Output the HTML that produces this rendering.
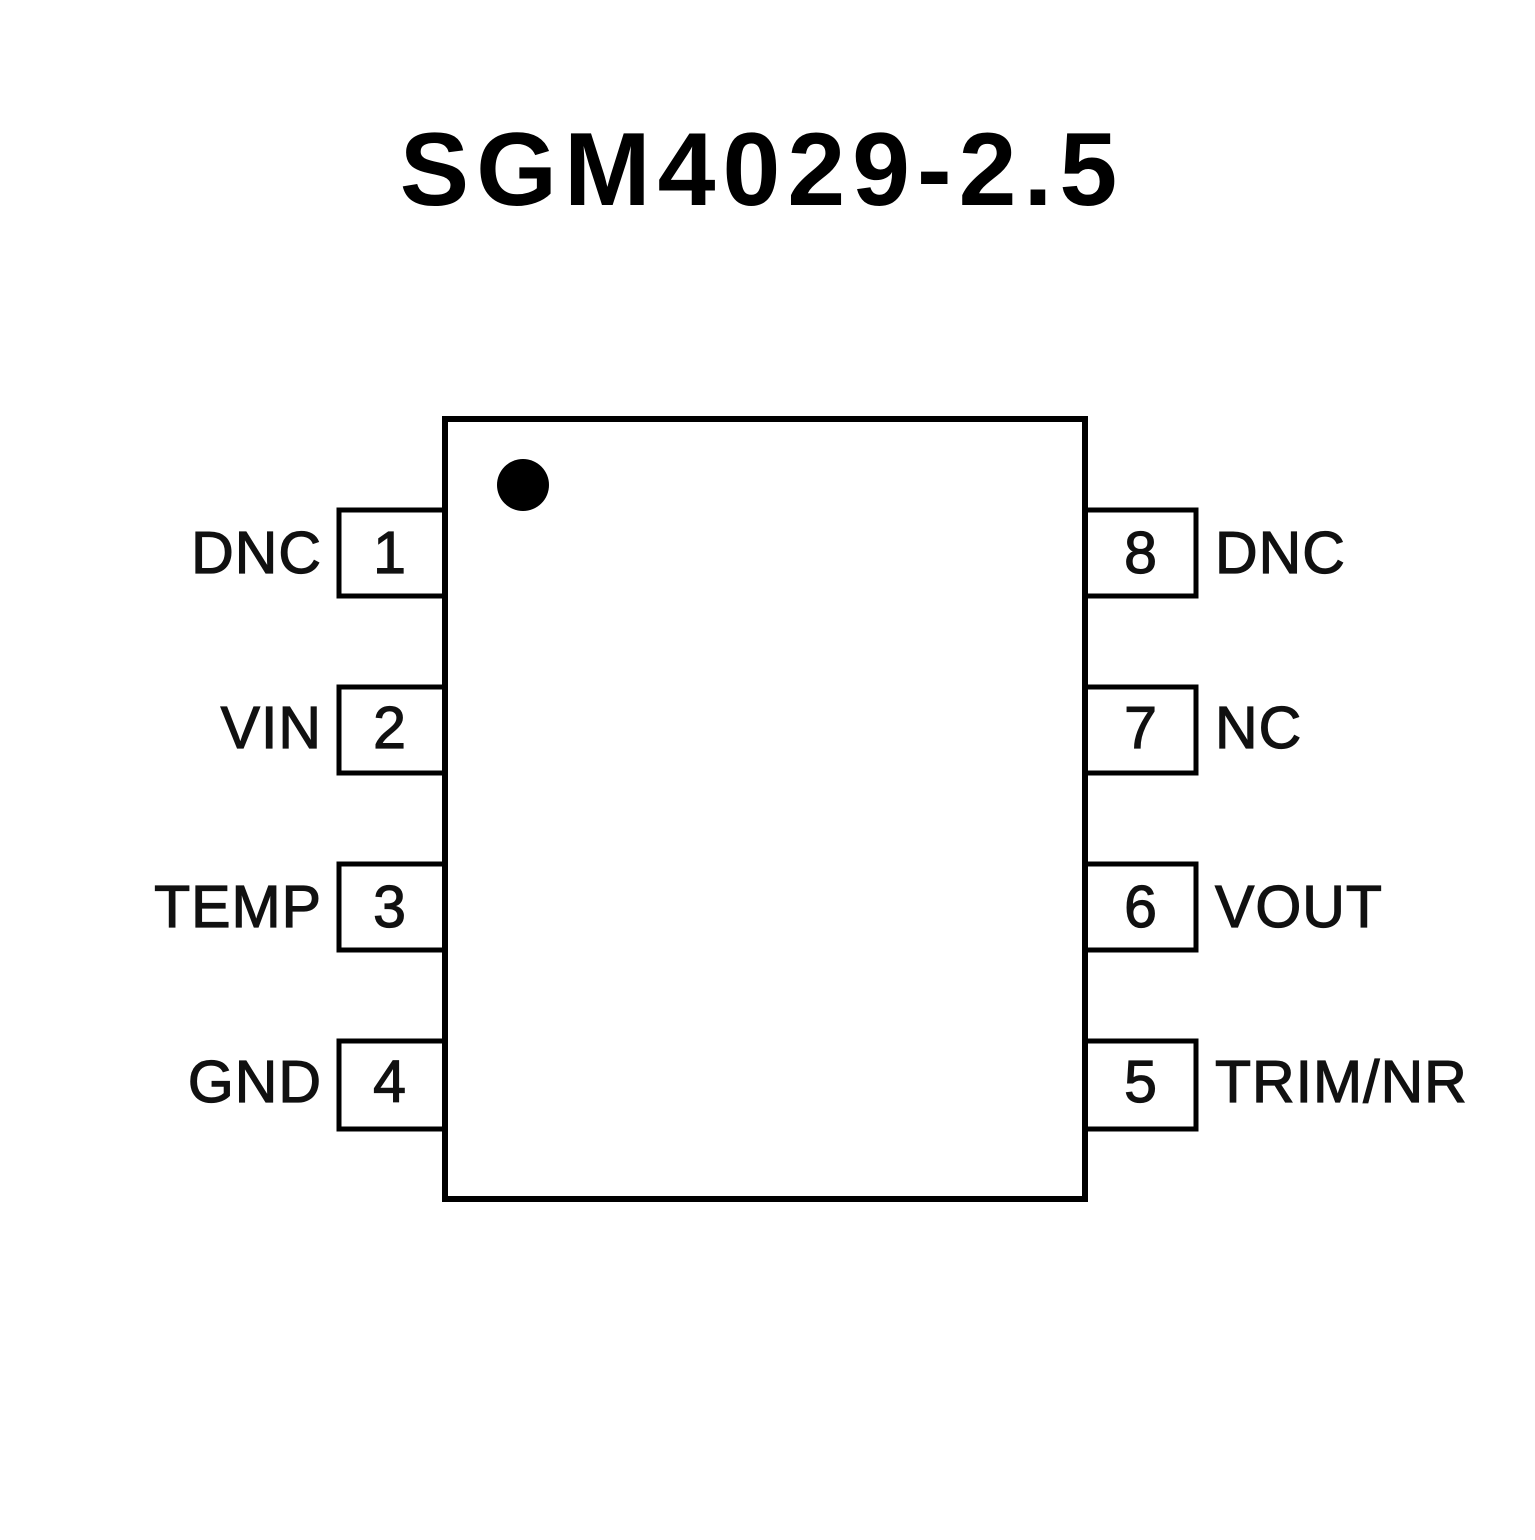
<!DOCTYPE html>
<html><head><meta charset="utf-8"><style>
html,body{margin:0;padding:0;background:#fff;}
</style></head><body>
<svg width="1535" height="1535" viewBox="0 0 1535 1535" xmlns="http://www.w3.org/2000/svg">
<rect width="1535" height="1535" fill="#fff"/>
<text x="762" y="205" text-anchor="middle" font-family="Liberation Sans, sans-serif" font-weight="bold" font-size="104" letter-spacing="7" fill="#000">SGM4029-2.5</text>
<g fill="none" stroke="#000" stroke-width="5">
<rect x="339" y="510" width="106" height="86"/>
<rect x="339" y="687" width="106" height="86"/>
<rect x="339" y="864" width="106" height="86"/>
<rect x="339" y="1041" width="106" height="88"/>
<rect x="1085" y="510" width="111" height="86"/>
<rect x="1085" y="687" width="111" height="86"/>
<rect x="1085" y="864" width="111" height="86"/>
<rect x="1085" y="1041" width="111" height="88"/>
</g>
<rect x="445" y="419" width="640" height="780" fill="#fff" stroke="#000" stroke-width="6"/>
<circle cx="523" cy="485" r="26" fill="#000"/>
<g font-family="Liberation Sans, sans-serif" font-size="59" fill="#111" stroke="#111" stroke-width="1.2" letter-spacing="1">
<g text-anchor="end">
<text x="322" y="573">DNC</text>
<text x="322" y="748">VIN</text>
<text x="322" y="927">TEMP</text>
<text x="322" y="1102">GND</text>
</g>
<g text-anchor="middle">
<text x="390" y="573">1</text>
<text x="390" y="748">2</text>
<text x="390" y="927">3</text>
<text x="390" y="1102">4</text>
<text x="1141" y="573">8</text>
<text x="1141" y="748">7</text>
<text x="1141" y="927">6</text>
<text x="1141" y="1102">5</text>
</g>
<text x="1215" y="573">DNC</text>
<text x="1215" y="748">NC</text>
<text x="1215" y="927">VOUT</text>
<text x="1215" y="1102">TRIM/NR</text>
</g>
</svg>
</body></html>
